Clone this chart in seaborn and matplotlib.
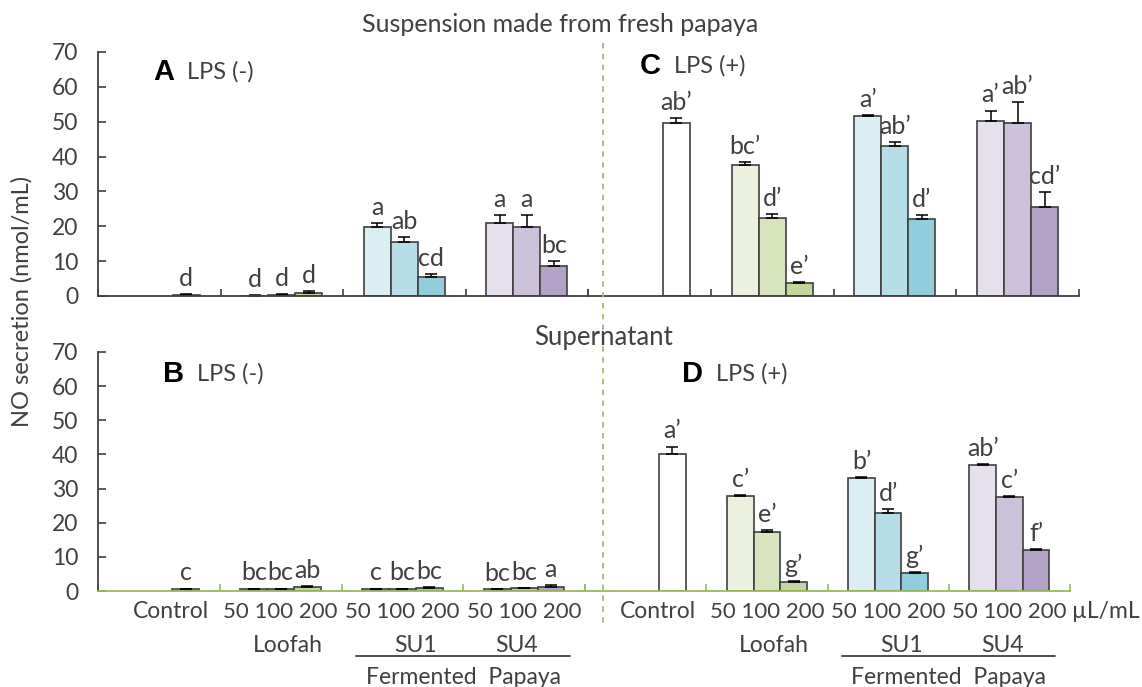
import numpy as np
import pandas as pd
import matplotlib
matplotlib.use("Agg")
import matplotlib.pyplot as plt
import matplotlib.transforms as mtransforms
from matplotlib.lines import Line2D
import seaborn as sns

# categories
groups = ["Control", "Loofah", "SU1", "SU4"]
doses = ["50", "100", "200"]
bar_group = ["Control", "Loofah", "Loofah", "Loofah", "SU1", "SU1", "SU1", "SU4", "SU4", "SU4"]
bar_dose = ["200", "50", "100", "200", "50", "100", "200", "50", "100", "200"]

# A - suspension, LPS(-)
a_mean = [0.3, 0.1, 0.3, 0.8, 19.8, 15.4, 5.5, 21.0, 19.9, 8.7]
a_sd = [0.2, 0.1, 0.3, 0.5, 1.2, 1.6, 0.7, 2.2, 3.3, 1.2]
a_sig = ["d", "d", "d", "d", "a", "ab", "cd", "a", "a", "bc"]

# C - suspension, LPS(+)
c_mean = [49.7, 37.6, 22.5, 3.6, 51.6, 43.1, 22.1, 50.1, 49.7, 25.6]
c_sd = [1.3, 0.8, 1.1, 0.4, 0.3, 1.0, 1.0, 3.1, 6.0, 4.2]
c_sig = ["ab’", "bc’", "d’", "e’", "a’", "ab’", "d’", "a’", "ab’", "cd’"]

# B - supernatant, LPS(-)
b_mean = [0.6, 0.6, 0.6, 1.3, 0.6, 0.6, 1.0, 0.5, 0.8, 1.3]
b_sd = [0.1, 0.1, 0.1, 0.1, 0.1, 0.1, 0.1, 0.1, 0.1, 0.4]
b_sig = ["c", "bc", "bc", "ab", "c", "bc", "bc", "bc", "bc", "a"]

# D - supernatant, LPS(+)
d_mean = [40.1, 27.8, 17.2, 2.7, 33.0, 22.8, 5.4, 36.9, 27.6, 11.9]
d_sd = [2.2, 0.3, 0.7, 0.3, 0.3, 1.2, 0.1, 0.3, 0.3, 0.3]
d_sig = ["a’", "c’", "e’", "g’", "b’", "d’", "g’", "ab’", "c’", "f’"]

bar_colors = {
    "Control": ["white", "white", "white"],
    "Loofah": ["#EBF1DE", "#D7E4BD", "#C3D69B"],
    "SU1": ["#DAEEF3", "#B7DEE8", "#92CDDC"],
    "SU4": ["#E6E0EC", "#CCC1DA", "#B3A2C7"],
}

EDGE = "#404040"
TXT = "#404040"
GREEN = "#9BBB59"
W, H = 1142, 687
FS = 16.5

sns.set_style("ticks")
plt.rcParams["font.family"] = ["Lato", "DejaVu Sans"]

fig = plt.figure(figsize=(W / 100, H / 100), dpi=100)


def fx(px):
    return px / W


def fy(py):
    return 1 - py / H


ax_a = fig.add_axes([fx(98), fy(296), 490 / W, 244 / H])
ax_c = fig.add_axes([fx(588), fy(296), 491 / W, 244 / H])
ax_b = fig.add_axes([fx(98), fy(591), 487 / W, 239 / H])
ax_d = fig.add_axes([fx(585), fy(591), 485 / W, 239 / H])


def draw(ax, mean, sd, sig, left, axis_color):
    df = pd.DataFrame({"group": bar_group, "dose": bar_dose,
                       "value": mean, "sd": sd, "sig": sig})
    sns.barplot(data=df, x="group", y="value", hue="dose", order=groups,
                hue_order=doses, width=0.66, errorbar=None, saturation=1,
                edgecolor=EDGE, linewidth=1.2, legend=False, ax=ax)
    bars = []
    for hi, cont in enumerate(list(ax.containers)):
        for p in cont.patches:
            cx = p.get_x() + p.get_width() / 2
            g = groups[int(round(cx))]
            row = df[(df.group == g) & (df.dose == doses[hi])].iloc[0]
            p.set_facecolor(bar_colors[g][hi])
            bars.append((cx, row.value, row.sd, row.sig))
    for cx, v, s, lab in bars:
        ax.errorbar(cx, v, yerr=[[0], [s]], fmt="none", ecolor="black",
                    elinewidth=1.1, capsize=4, capthick=1.1)
        ax.annotate(lab, (cx, v + s), xytext=(0, 3), textcoords="offset points",
                    ha="center", va="bottom", fontsize=18, color=TXT)

    ax.set_xlim(-0.5, 3.5)
    ax.set_ylim(0, 70)
    ax.set_xticks(np.arange(-0.5, 3.6, 1))
    ax.set_xticklabels([])
    ax.set_xlabel("")
    ax.set_ylabel("")
    ax.tick_params(axis="x", direction="in", length=5, width=1.2, color=axis_color)
    ax.spines["bottom"].set_color(axis_color)
    ax.spines["bottom"].set_linewidth(1.3)
    ax.spines[["top", "right"]].set_visible(False)
    ax.set_facecolor("none")
    if left:
        ax.set_yticks(range(0, 71, 10))
        ax.tick_params(axis="y", direction="in", length=6, width=1.2, color=EDGE,
                       pad=14, labelsize=16.5, labelcolor=TXT)
        ax.spines["left"].set_color(EDGE)
        ax.spines["left"].set_linewidth(1.3)
    else:
        ax.spines["left"].set_visible(False)
        ax.tick_params(axis="y", left=False, labelleft=False)


draw(ax_a, a_mean, a_sd, a_sig, True, EDGE)
draw(ax_c, c_mean, c_sd, c_sig, False, EDGE)
draw(ax_b, b_mean, b_sd, b_sig, True, GREEN)
draw(ax_d, d_mean, d_sd, d_sig, False, GREEN)

# x labels under the bottom row
for ax in (ax_b, ax_d):
    tr = mtransforms.blended_transform_factory(ax.transData, fig.transFigure)
    for i, g in enumerate(groups):
        if g == "Control":
            ax.text(0.1, fy(612), "Control", transform=tr, ha="center", va="center",
                    fontsize=FS, color=TXT)
        else:
            ax.text(i, fy(612), "50 100 200", transform=tr, ha="center", va="center",
                    fontsize=16, color=TXT)
    ax.text(1.06, fy(645), "Loofah", transform=tr, ha="center", va="center", fontsize=FS, color=TXT)
    ax.text(2.11, fy(645), "SU1", transform=tr, ha="center", va="center", fontsize=FS, color=TXT)
    ax.text(2.94, fy(645), "SU4", transform=tr, ha="center", va="center", fontsize=FS, color=TXT)
    fig.add_artist(Line2D([1.62, 3.38], [fy(656), fy(656)], transform=tr, color=TXT, lw=1.3))
    ax.text(2.5, fy(677), "Fermented  Papaya", transform=tr, ha="center", va="center",
            fontsize=FS, color=TXT)

tr_d = mtransforms.blended_transform_factory(ax_d.transData, fig.transFigure)
ax_d.text(3.52, fy(612), "µL/mL", transform=tr_d, ha="left", va="center", fontsize=FS, color=TXT)

# panel letters and titles
for px, py, letter, lps in [(153, 72, "A", "LPS (-)"), (640, 66, "C", "LPS (+)"),
                            (163, 374, "B", "LPS (-)"), (682, 374, "D", "LPS (+)")]:
    fig.text(fx(px), fy(py), letter, ha="left", va="center", fontsize=21,
             fontweight="bold", family="Liberation Sans", color="black")
    fig.text(fx(px + 34), fy(py), lps, ha="left", va="center", fontsize=17, color=TXT)

fig.text(fx(560), fy(25), "Suspension made from fresh papaya", ha="center", va="center",
         fontsize=18, color=TXT)
fig.text(fx(604), fy(338), "Supernatant", ha="center", va="center", fontsize=18.5, color=TXT)
fig.text(fx(22), fy(301), "NO secretion (nmol/mL)", rotation=90, ha="center", va="center",
         fontsize=17, color=TXT)

# dashed divider
fig.add_artist(Line2D([fx(603), fx(603)], [fy(43), fy(628)], transform=fig.transFigure,
                      color="#A8B878", lw=1.3, ls=(0, (3, 3))))

fig.savefig("out.png", dpi=100)
